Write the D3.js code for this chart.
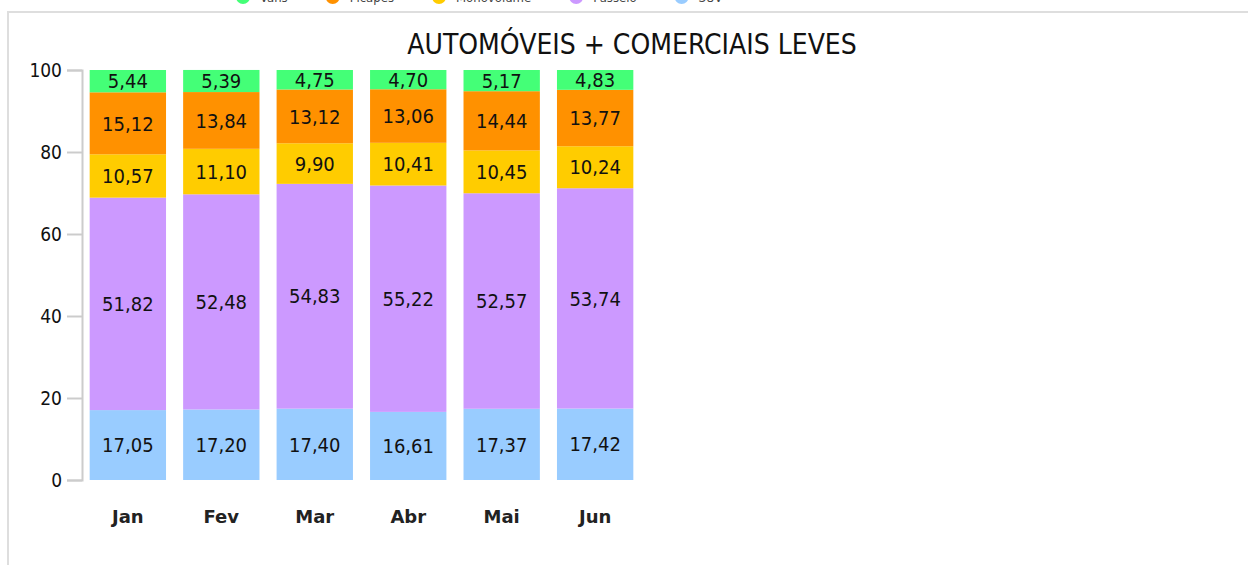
<!DOCTYPE html>
<html>
<head>
<meta charset="utf-8">
<script src="https://cdn.jsdelivr.net/npm/d3@7"></script>
<style>
  html, body { margin: 0; padding: 0; background: #fff; overflow: hidden; }
  svg { display: block; font-family: "DejaVu Sans Condensed", "DejaVu Sans", sans-serif; font-stretch: condensed; }
</style>
</head>
<body>
<svg id="chart" width="1248" height="565"></svg>
<script>
// months along the x axis
const months = ['Jan', 'Fev', 'Mar', 'Abr', 'Mai', 'Jun'];

// segment shares (%), stacked bottom-up
const suv      = [17.05, 17.20, 17.40, 16.61, 17.37, 17.42];
const passeio  = [51.82, 52.48, 54.83, 55.22, 52.57, 53.74];
const monovol  = [10.57, 11.10,  9.90, 10.41, 10.45, 10.24];
const picapes  = [15.12, 13.84, 13.12, 13.06, 14.44, 13.77];
const vans     = [ 5.44,  5.39,  4.75,  4.70,  5.17,  4.83];

// legend order (top of the page) and y ticks
const legendNames = ['Vans', 'Picapes', 'Monovolume', 'Passeio', 'SUV'];
const yTicks = [0, 20, 40, 60, 80, 100];
const title = 'AUTOMÓVEIS + COMERCIAIS LEVES';

// series table for the stack, bottom first
const series = [
    { key: 'SUV',        values: suv,     color: '#99ccff' },
    { key: 'Passeio',    values: passeio, color: '#cc99ff' },
    { key: 'Monovolume', values: monovol, color: '#ffcc00' },
    { key: 'Picapes',    values: picapes, color: '#ff9100' },
    { key: 'Vans',       values: vans,    color: '#44ff77' },
];
const colorOf = k => series.find(s => s.key === k).color;

const rows = months.map((m, i) => {
    const r = { month: m };
    series.forEach(s => r[s.key] = s.values[i]);
    return r;
});

const svg = d3.select('#chart');

// outer frame, its top edge sits just under the (cut off) legend
svg.append('rect')
    .attr('x', 8).attr('y', 12)
    .attr('width', 1260).attr('height', 580)
    .attr('fill', 'none')
    .attr('stroke', '#dedede')
    .attr('stroke-width', 2);

// legend, mostly above the visible area
let lx = 243;
const legend = svg.append('g').attr('class', 'legend');
legendNames.forEach(name => {
    const g = legend.append('g').attr('transform', `translate(${lx},-3)`);
    g.append('circle').attr('r', 7).attr('fill', colorOf(name));
    const t = g.append('text')
        .attr('x', 17).attr('y', 5)
        .attr('font-size', 13).attr('fill', '#444')
        .text(name);
    lx += 17 + t.node().getComputedTextLength() + 45;
});

// title
svg.append('text')
    .attr('x', 632).attr('y', 54)
    .attr('text-anchor', 'middle')
    .attr('font-size', 28)
    .attr('fill', '#111')
    .text(title);

// scales
const x = d3.scaleBand()
    .domain(months)
    .range([85, 638])
    .paddingInner(0.183)
    .paddingOuter(0.05);

const y = d3.scaleLinear()
    .domain([0, 100])
    .range([480, 70]);

// y axis, bracket shaped with long light grey ticks
const yAxis = svg.append('g')
    .attr('transform', 'translate(82,0)')
    .call(d3.axisLeft(y).tickValues(yTicks).tickSize(15).tickPadding(5));
yAxis.selectAll('path, line').attr('stroke', '#cccccc').attr('stroke-width', 2);
yAxis.selectAll('text').attr('font-size', 19).attr('fill', '#111')
    .attr('font-family', '"DejaVu Sans Condensed", "DejaVu Sans", sans-serif');

// stacked bars
const stack = d3.stack().keys(series.map(s => s.key));
const layers = stack(rows);

const fmt = d3.formatLocale({ decimal: ',', thousands: '.', grouping: [3], currency: ['R$', ''] }).format('.2f');

const layerG = svg.append('g').attr('class', 'bars')
    .selectAll('g')
    .data(layers)
    .join('g')
    .attr('fill', d => colorOf(d.key));

layerG.selectAll('rect')
    .data(d => d)
    .join('rect')
    .attr('x', d => x(d.data.month))
    .attr('width', x.bandwidth())
    .attr('y', d => y(d[1]))
    .attr('height', d => y(d[0]) - y(d[1]));

// value labels centred in each segment
const labelG = svg.append('g').attr('class', 'labels');
layers.forEach(layer => {
    labelG.selectAll(null)
        .data(layer)
        .join('text')
        .attr('x', d => x(d.data.month) + x.bandwidth() / 2)
        .attr('y', d => (y(d[0]) + y(d[1])) / 2)
        .attr('dy', '0.36em')
        .attr('text-anchor', 'middle')
        .attr('font-size', 20)
        .attr('fill', '#111')
        .text(d => fmt(d[1] - d[0]));
});

// month labels under the bars
svg.append('g').selectAll('text')
    .data(months)
    .join('text')
    .attr('x', d => x(d) + x.bandwidth() / 2)
    .attr('y', 523)
    .attr('text-anchor', 'middle')
    .attr('font-family', '"DejaVu Sans", sans-serif')
    .style('font-stretch', 'normal')
    .attr('font-size', 18)
    .attr('font-weight', 'bold')
    .attr('fill', '#222')
    .text(d => d);
</script>
</body>
</html>
